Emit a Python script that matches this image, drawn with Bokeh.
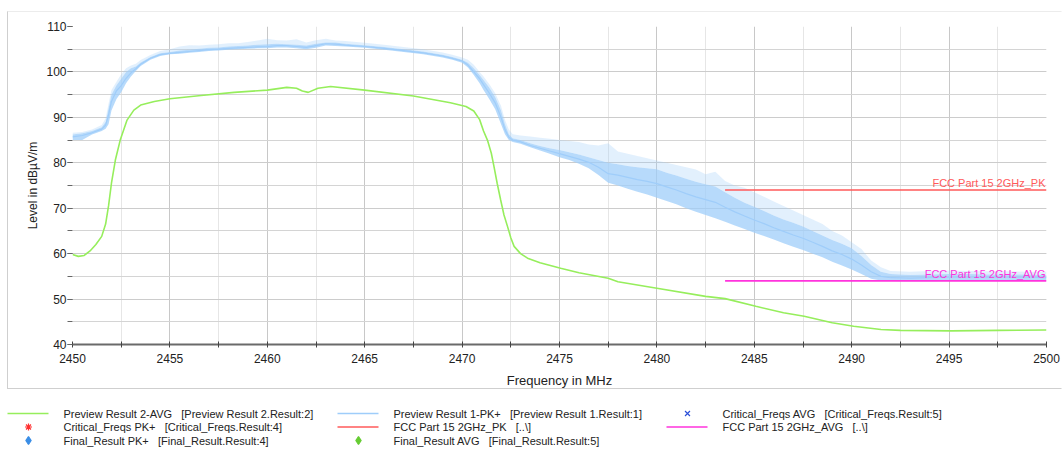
from bokeh.plotting import figure
from bokeh.layouts import column
from bokeh.models import (ColumnDataSource, Range1d, SingleIntervalTicker, FixedTicker, Label)
from bokeh.core.properties import value
from bokeh.embed import file_html
from bokeh.resources import INLINE

FONT = "Liberation Sans"

# ---------------- data ----------------
avg_freq = [2450.0, 2450.3, 2450.6, 2450.9, 2451.2, 2451.5, 2451.7, 2451.85, 2452.0, 2452.2,
            2452.45, 2452.8, 2453.15, 2453.5, 2454.2, 2455.0, 2456.6, 2458.3, 2460.0, 2461.0,
            2461.5, 2461.8, 2462.1, 2462.6, 2463.25, 2465.0, 2467.5, 2469.4, 2470.2, 2470.6,
            2470.9, 2471.1, 2471.3, 2471.5, 2471.64, 2471.8, 2471.98, 2472.15, 2472.33, 2472.5,
            2472.67, 2473.0, 2473.36, 2474.0, 2475.06, 2476.0, 2477.5, 2478.0, 2480.0, 2482.5,
            2483.5, 2485.08, 2486.5, 2487.56, 2489.0, 2490.1, 2491.5, 2492.5, 2495.1, 2497.5,
            2500.0]
avg_level = [59.8, 59.4, 59.6, 60.6, 62.0, 63.8, 66.5, 70.5, 75.5, 80.6,
             85.0, 89.4, 91.6, 92.7, 93.5, 94.1, 94.8, 95.5, 96.0, 96.6,
             96.4, 95.8, 95.5, 96.4, 96.8, 96.0, 94.7, 93.2, 92.4, 91.4,
             89.5, 87.0, 85.0, 82.1, 79.1, 75.5, 71.8, 68.5, 66.0, 63.5,
             61.6, 60.0, 59.0, 58.0, 56.8, 55.8, 54.6, 53.8, 52.4, 50.6,
             50.1, 48.4, 47.0, 46.2, 44.8, 44.0, 43.3, 43.1, 43.0, 43.1,
             43.2]

pk_freq = [2450.0, 2450.5, 2451.0, 2451.5, 2451.7, 2451.85, 2452.0, 2452.25, 2452.5, 2452.75,
           2453.0, 2453.25, 2453.5, 2454.0, 2454.5, 2455.0, 2455.5, 2456.0, 2456.5, 2457.0,
           2457.5, 2458.0, 2458.5, 2459.0, 2459.5, 2460.0, 2460.5, 2461.0, 2461.5, 2462.0,
           2462.5, 2463.0, 2463.5, 2464.0, 2465.0, 2466.0, 2467.0, 2468.0, 2469.0, 2469.5,
           2470.0, 2470.3, 2470.6, 2470.9, 2471.1, 2471.4, 2471.7, 2472.0, 2472.2, 2472.4,
           2472.6, 2473.0, 2473.5, 2474.0, 2474.5, 2475.0, 2475.5, 2476.0, 2476.5, 2477.0,
           2477.5, 2478.0, 2478.5, 2479.0, 2479.5, 2480.0, 2480.5, 2481.0, 2481.5, 2482.0,
           2482.5, 2483.0, 2483.5, 2484.0, 2484.5, 2485.0, 2485.5, 2486.0, 2486.5, 2487.0,
           2487.5, 2488.0, 2488.5, 2489.0, 2489.5, 2490.0, 2490.5, 2491.0, 2491.5, 2492.0,
           2493.0, 2494.0, 2495.0, 2496.0, 2497.0, 2498.0, 2499.0, 2500.0]
# trace centre
pk_level = [85.7, 86.0, 86.6, 87.4, 88.3, 90.5, 93.5, 95.8, 97.0, 98.6,
            99.8, 100.7, 101.7, 103.0, 103.8, 104.1, 104.3, 104.5, 104.7, 104.9,
            105.0, 105.2, 105.3, 105.4, 105.5, 105.6, 105.8, 105.8, 105.6, 105.4,
            105.8, 106.2, 106.1, 105.9, 105.6, 105.2, 104.7, 104.2, 103.5, 103.0,
            102.4, 101.5, 100.0, 98.5, 97.2, 95.3, 93.2, 90.0, 87.3, 85.6,
            85.0, 84.6, 83.8, 83.2, 82.6, 82.0, 81.4, 80.8, 80.1, 79.0,
            77.6, 77.3, 76.8, 76.3, 75.9, 75.4, 74.7, 74.0, 73.2, 72.5,
            71.9, 71.3, 70.2, 69.2, 68.3, 67.4, 66.6, 65.7, 64.9, 64.1,
            63.4, 62.5, 61.6, 60.6, 59.8, 58.8, 57.5, 56.0, 55.0, 54.7,
            54.6, 54.7, 54.8, 54.8, 54.8, 54.8, 54.8, 54.7]
# dense part of the noise
pk_low = [85.0, 85.0, 86.2, 87.0, 87.5, 88.5, 91.5, 94.0, 95.5, 97.5,
          99.0, 100.2, 101.3, 102.7, 103.5, 103.9, 104.0, 104.2, 104.4, 104.6,
          104.7, 104.9, 105.0, 105.1, 105.2, 105.2, 105.4, 105.4, 105.2, 105.0,
          105.3, 105.8, 105.7, 105.6, 105.3, 104.9, 104.4, 103.9, 103.2, 102.7,
          102.0, 101.0, 99.3, 97.5, 96.0, 94.0, 91.8, 88.5, 86.3, 85.0,
          84.6, 84.2, 83.4, 82.7, 82.0, 81.2, 80.6, 79.8, 78.8, 77.3,
          75.6, 75.0, 74.3, 73.6, 73.0, 72.3, 71.6, 70.9, 70.0, 69.2,
          68.5, 67.8, 67.0, 66.2, 65.4, 64.6, 63.9, 63.1, 62.3, 61.5,
          60.8, 60.0, 59.2, 58.2, 57.4, 56.5, 55.5, 54.5, 54.1, 54.0,
          53.9, 53.9, 54.0, 54.0, 54.1, 54.1, 54.1, 54.1]
pk_high = [86.2, 86.5, 87.0, 87.8, 89.0, 92.0, 95.0, 97.0, 98.5, 100.0,
           100.8, 101.2, 102.1, 103.3, 104.1, 104.4, 104.7, 104.9, 105.1, 105.3,
           105.4, 105.6, 105.7, 105.8, 106.0, 106.1, 106.2, 106.1, 106.0, 105.8,
           106.2, 106.5, 106.5, 106.2, 105.9, 105.5, 105.0, 104.5, 103.8, 103.3,
           102.7, 102.0, 100.8, 99.3, 98.2, 96.5, 94.5, 91.5, 88.5, 86.3,
           85.4, 85.0, 84.3, 83.7, 83.2, 82.8, 82.3, 81.8, 81.2, 80.6,
           80.0, 79.7, 79.3, 79.0, 78.8, 78.6, 77.8, 77.2, 76.5, 75.8,
           75.3, 74.8, 73.5, 72.3, 71.2, 70.3, 69.4, 68.4, 67.5, 66.8,
           66.0, 65.0, 64.0, 63.0, 62.2, 61.2, 59.5, 57.5, 56.0, 55.5,
           55.3, 55.4, 55.5, 55.5, 55.4, 55.4, 55.4, 55.3]
# tops of the isolated spikes
pk_peak = [86.6, 86.8, 87.3, 88.3, 89.8, 93.0, 96.0, 97.8, 99.5, 100.8,
           101.4, 101.8, 102.6, 103.7, 104.6, 105.0, 105.6, 105.9, 105.8, 106.0,
           106.1, 106.3, 106.3, 106.6, 106.9, 107.3, 107.0, 106.9, 107.2, 106.5,
           107.0, 107.3, 106.9, 106.8, 106.4, 106.0, 105.5, 105.0, 104.3, 103.8,
           103.2, 102.7, 101.6, 100.0, 99.0, 97.3, 95.3, 92.5, 89.5, 87.3,
           86.3, 86.0, 85.8, 85.5, 85.3, 85.0, 84.8, 84.6, 84.0, 83.8,
           84.3, 82.5, 82.0, 81.5, 81.0, 80.5, 80.0, 79.5, 79.0, 78.5,
           77.5, 78.0, 76.0, 75.0, 74.5, 73.5, 72.5, 71.5, 70.5, 69.5,
           68.5, 67.5, 66.5, 65.0, 64.0, 62.5, 61.0, 58.5, 57.0, 56.2,
           56.0, 56.2, 56.3, 56.2, 56.1, 56.1, 56.0, 56.0]

limit_names = ["FCC Part 15 2GHz_PK", "FCC Part 15 2GHz_AVG"]
limit_levels = [74.0, 54.0]
limit_start = 2483.5
limit_stop = 2500.0

x_label_ticks = [2450, 2455, 2460, 2465, 2470, 2475, 2480, 2485, 2490, 2495, 2500]
x_minor_ticks = [2452.5, 2457.5, 2462.5, 2467.5, 2472.5, 2477.5, 2482.5, 2487.5, 2492.5, 2497.5]

legend_names = ["Preview Result 2-AVG", "Preview Result 1-PK+", "Critical_Freqs AVG",
                "Critical_Freqs PK+", "FCC Part 15 2GHz_PK", "FCC Part 15 2GHz_AVG",
                "Final_Result PK+", "Final_Result AVG"]
legend_refs = ["[Preview Result 2.Result:2]", "[Preview Result 1.Result:1]",
               "[Critical_Freqs.Result:5]", "[Critical_Freqs.Result:4]", "[..\\]", "[..\\]",
               "[Final_Result.Result:4]", "[Final_Result.Result:5]"]

# ---------------- style ----------------
C_AVG = "#96ee5c"
C_PK = "#9fcdfa"
C_LIM = ["#ff5a5a", "#ff33dd"]
legend_kind = ["line", "line", "x", "asterisk", "line", "line", "diamond", "diamond"]
legend_color = [C_AVG, C_PK, "#2b4fd8", "#ff3030", C_LIM[0], C_LIM[1], "#3a8ee6", "#66cc33"]

W_MAIN, H_MAIN = 1055, 378
ML, MR, MT, MB = 64, 17, 14, 45
W_LEG, H_LEG = 1063, 58

p = figure(width=W_MAIN, height=H_MAIN, x_range=Range1d(2450, 2500), y_range=Range1d(40, 110),
           output_backend="svg", toolbar_location=None,
           min_border_left=ML, min_border_right=MR, min_border_top=MT, min_border_bottom=MB,
           x_axis_label="Frequency in MHz", y_axis_label="Level in dB\u00b5V/m")
p.frame_align = False
p.margin = (11, 0, 0, 7)
p.styles = {"border": "1px solid #cfcfcf", "border-top-color": "#ececec",
            "border-right-color": "transparent"}
p.outline_line_color = None
p.background_fill_color = "white"
p.border_fill_color = "white"

xa = p.xaxis[0]
xa.ticker = FixedTicker(ticks=x_label_ticks, minor_ticks=x_minor_ticks)
xa.axis_line_color = "#6a6a6a"
xa.axis_line_width = 2
xa.major_tick_in = 3
xa.major_tick_out = 3
xa.minor_tick_in = 3
xa.minor_tick_out = 3
xa.major_tick_line_color = "#444444"
xa.minor_tick_line_color = "#444444"
xa.major_label_standoff = 6
xa.major_label_text_font = FONT
xa.major_label_text_font_size = "12px"
xa.major_label_text_color = "#222222"
xa.axis_label_text_font = FONT
xa.axis_label_text_font_size = "13px"
xa.axis_label_text_font_style = "normal"
xa.axis_label_text_color = "#222222"
xa.axis_label_standoff = 7

ya = p.yaxis[0]
ya.ticker = SingleIntervalTicker(interval=10, num_minor_ticks=2)
ya.axis_line_color = None
ya.major_tick_in = 0
ya.major_tick_out = 5
ya.minor_tick_in = 0
ya.minor_tick_out = 5
ya.major_tick_line_color = "#555555"
ya.minor_tick_line_color = "#666666"
ya.major_label_standoff = 1
ya.major_label_text_font = FONT
ya.major_label_text_font_size = "12px"
ya.major_label_text_color = "#222222"
ya.axis_label_text_font = FONT
ya.axis_label_text_font_size = "12px"
ya.axis_label_text_font_style = "normal"
ya.axis_label_text_color = "#222222"
ya.axis_label_standoff = 3

p.xgrid.ticker = FixedTicker(ticks=x_label_ticks[1:], minor_ticks=x_minor_ticks)
p.xgrid.grid_line_color = "#c8c8c8"
p.xgrid.minor_grid_line_color = "#e6e6e6"
p.ygrid.grid_line_color = "#cccccc"
p.ygrid.minor_grid_line_color = "#d4d4d4"

src_pk = ColumnDataSource(dict(f=pk_freq, lv=pk_level, lo=pk_low, hi=pk_high, pk=pk_peak))
p.varea(x="f", y1="hi", y2="pk", source=src_pk, fill_color=C_PK, fill_alpha=0.3)
p.varea(x="f", y1="lo", y2="hi", source=src_pk, fill_color=C_PK, fill_alpha=0.75)
p.line("f", "lv", source=src_pk, line_color=C_PK, line_width=1.2)
p.line(avg_freq, avg_level, line_color=C_AVG, line_width=1.6)

for name, lvl, col in zip(limit_names, limit_levels, C_LIM):
    p.line([limit_start, limit_stop], [lvl, lvl], line_color=col, line_width=1.6)
    p.add_layout(Label(x=limit_stop, y=lvl, text=name, x_offset=-1, y_offset=1,
                       text_align="right", text_baseline="bottom", text_font=FONT,
                       text_font_size="11px", text_color=col))

# ---------------- legend (own small figure below) ----------------
lg = figure(width=W_LEG, height=H_LEG, x_range=Range1d(0, W_LEG), y_range=Range1d(H_LEG, 0),
            output_backend="svg", toolbar_location=None, x_axis_type=None, y_axis_type=None,
            min_border=0, min_border_left=0, min_border_right=0, min_border_top=0,
            min_border_bottom=0)
lg.frame_align = False
lg.outline_line_color = None
lg.grid.visible = False
lg.background_fill_color = "white"
lg.border_fill_color = "white"

col_x = [7, 337, 666]
row_y = [24, 37.5, 51]
for i, (nm, rf, kind, colr) in enumerate(zip(legend_names, legend_refs, legend_kind, legend_color)):
    x0 = col_x[i % 3]
    y0 = row_y[i // 3]
    if kind == "line":
        lg.segment(x0=[x0], y0=[y0], x1=[x0 + 41], y1=[y0], line_color=colr, line_width=1.6)
    else:
        sz = 8 if kind == "diamond" else 7
        lg.scatter([x0 + 21], [y0], marker=kind, size=sz, line_color=colr, fill_color=colr,
                   line_width=1.2)
    lg.text([x0 + 56], [y0], text=[nm + "\u00a0\u00a0\u00a0" + rf], text_font=value(FONT),
            text_font_size="11px", text_baseline="middle", text_align="left",
            text_color="#222222")

layout = column(p, lg, spacing=0)
open("out.html", "w").write(file_html(layout, INLINE))
